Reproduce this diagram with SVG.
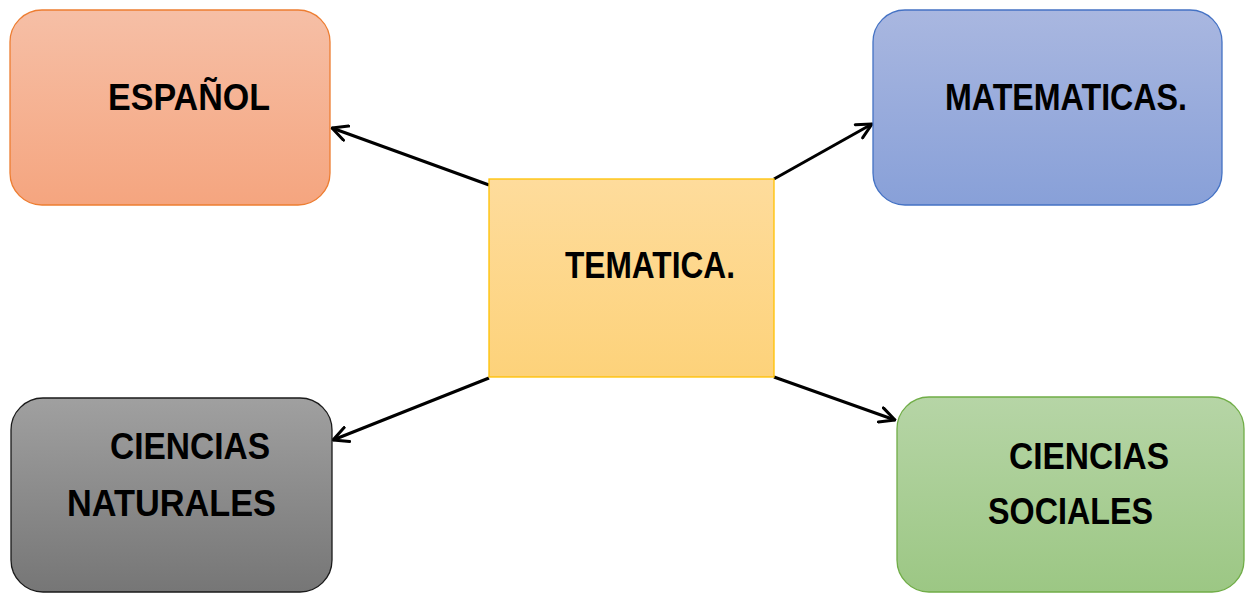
<svg xmlns="http://www.w3.org/2000/svg" width="1245" height="594" viewBox="0 0 1245 594">
<defs>
<linearGradient id="gOrange" x1="0" y1="0" x2="0" y2="1"><stop offset="0" stop-color="#F6BFA6"/><stop offset="1" stop-color="#F5A57F"/></linearGradient>
<linearGradient id="gBlue" x1="0" y1="0" x2="0" y2="1"><stop offset="0" stop-color="#A9B7E0"/><stop offset="1" stop-color="#88A0D8"/></linearGradient>
<linearGradient id="gYellow" x1="0" y1="0" x2="0" y2="1"><stop offset="0" stop-color="#FEDC9C"/><stop offset="1" stop-color="#FDD27A"/></linearGradient>
<linearGradient id="gGray" x1="0" y1="0" x2="0" y2="1"><stop offset="0" stop-color="#A0A0A0"/><stop offset="1" stop-color="#767676"/></linearGradient>
<linearGradient id="gGreen" x1="0" y1="0" x2="0" y2="1"><stop offset="0" stop-color="#B6D5A6"/><stop offset="1" stop-color="#9CC784"/></linearGradient>
<marker id="arrow" viewBox="0 0 12 12" refX="11" refY="6" markerWidth="6" markerHeight="6" orient="auto" markerUnits="strokeWidth">
<path d="M1,1 L11,6 L1,11" fill="none" stroke="#000" stroke-width="2" stroke-linecap="round" stroke-linejoin="round"/>
</marker>
</defs>
<style>
.lbl{font-family:"Liberation Sans",Arial,sans-serif;font-weight:bold;font-size:37px;fill:#000}
.conn{stroke:#000;stroke-width:3;fill:none;marker-end:url(#arrow)}
</style>
<g id="connectors">
<line class="conn" x1="489" y1="185" x2="332" y2="128"/>
<line class="conn" x1="774" y1="179" x2="872" y2="124"/>
<line class="conn" x1="489" y1="378" x2="333" y2="440"/>
<line class="conn" x1="774" y1="377" x2="895" y2="420"/>
</g>
<g id="node-espanol">
<rect x="10" y="10" width="320" height="195" rx="32" ry="32" fill="url(#gOrange)" stroke="#ED7D31" stroke-width="1.3"/>
<text class="lbl" x="108" y="110" textLength="162" lengthAdjust="spacingAndGlyphs">ESPAÑOL</text>
</g>
<g id="node-matematicas">
<rect x="873" y="10" width="349" height="195" rx="32" ry="32" fill="url(#gBlue)" stroke="#4472C4" stroke-width="1.3"/>
<text class="lbl" x="945" y="110" textLength="242" lengthAdjust="spacingAndGlyphs">MATEMATICAS.</text>
</g>
<g id="node-tematica">
<rect x="489" y="179" width="285" height="198" fill="url(#gYellow)" stroke="#FFC000" stroke-width="1.3"/>
<text class="lbl" x="565" y="278" textLength="170" lengthAdjust="spacingAndGlyphs">TEMATICA.</text>
</g>
<g id="node-naturales">
<rect x="11" y="398" width="321" height="194" rx="32" ry="32" fill="url(#gGray)" stroke="#1A1A1A" stroke-width="1.3"/>
<text class="lbl" x="110" y="459" textLength="160" lengthAdjust="spacingAndGlyphs">CIENCIAS</text>
<text class="lbl" x="67" y="516" textLength="209" lengthAdjust="spacingAndGlyphs">NATURALES</text>
</g>
<g id="node-sociales">
<rect x="897" y="397" width="347" height="195" rx="32" ry="32" fill="url(#gGreen)" stroke="#70AD47" stroke-width="1.3"/>
<text class="lbl" x="1009" y="469" textLength="160" lengthAdjust="spacingAndGlyphs">CIENCIAS</text>
<text class="lbl" x="988" y="524" textLength="165" lengthAdjust="spacingAndGlyphs">SOCIALES</text>
</g>
</svg>
